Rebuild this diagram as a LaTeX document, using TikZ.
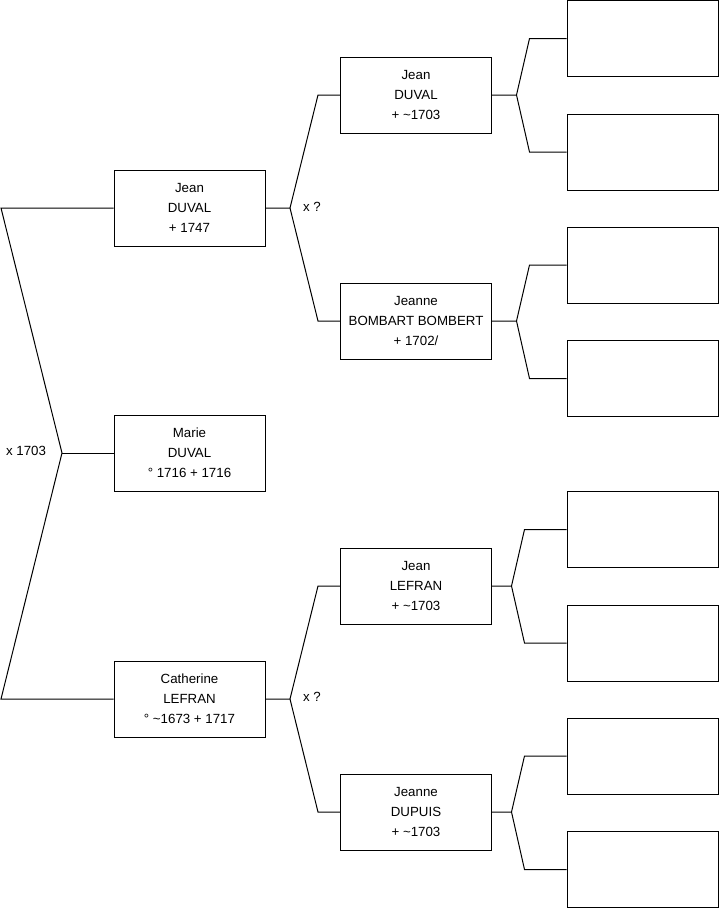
\documentclass[tikz,border=0pt]{standalone}
\usepackage{fontspec}
\setmainfont{Liberation Sans}
\begin{document}
\begin{tikzpicture}[x=1pt,y=-1pt,
    person/.style={draw, line width=1pt, minimum width=151pt, minimum height=76pt,
      inner sep=0pt, align=center, font=\fontsize{13.3}{20}\selectfont},
    link/.style={line width=1pt},
    union/.style={font=\fontsize{13.3}{16}\selectfont, inner sep=0pt}]
    \useasboundingbox (0,0) rectangle (719,908);
    % --- Parameters ---
    \pgfmathsetmacro{\xa}{189.5}
    \pgfmathsetmacro{\xb}{416}
    \pgfmathsetmacro{\xc}{642.5}
    % --- Children ---
    \node[person] (p1) at (\xa,208) {Jean\\DUVAL\\+ 1747};
    \node[person] (p2) at (\xa,453) {Marie\\DUVAL\\° 1716 + 1716};
    \node[person] (p3) at (\xa,699) {Catherine\\LEFRAN\\° \textasciitilde1673 + 1717};
    % --- Parents ---
    \node[person] (g1) at (\xb,95) {Jean\\DUVAL\\+ \textasciitilde1703};
    \node[person] (g2) at (\xb,321) {Jeanne\\BOMBART BOMBERT\\+ 1702/};
    \node[person] (g3) at (\xb,586) {Jean\\LEFRAN\\+ \textasciitilde1703};
    \node[person] (g4) at (\xb,812) {Jeanne\\DUPUIS\\+ \textasciitilde1703};
    % --- Grandparents (empty) ---
    \foreach \n/\y in {e1/38.5, e2/152, e3/265, e4/378.5, e5/529.5, e6/643, e7/756, e8/869.5} {
        \node[person] (\n) at (\xc,\y) {};
    }
    % --- Root bracket ---
    \coordinate (v0) at (62,453);
    \coordinate (a0) at (1,208);
    \coordinate (b0) at (1,699);
    \draw[link] (p1.west) -- (a0) -- (v0) -- (b0) -- (p3.west);
    \draw[link] (v0) -- (p2.west);
    \node[union] (m0) at (26,451) {x 1703};
    % --- Parent brackets ---
    \coordinate (v1) at (290,208);
    \coordinate (v2) at (290,699);
    \draw[link] (p1.east) -- (v1) -- (318,95) -- (g1.west);
    \draw[link] (v1) -- (318,321) -- (g2.west);
    \draw[link] (p3.east) -- (v2) -- (318,586) -- (g3.west);
    \draw[link] (v2) -- (318,812) -- (g4.west);
    \node[union] (m1) at (312,207) {x ?};
    \node[union] (m2) at (312,697) {x ?};
    % --- Grandparent brackets ---
    \foreach \g/\dv/\da/\ea/\eb in {g1/24.5/37/e1/e2, g2/24.5/37/e3/e4, g3/19.5/42/e5/e6, g4/19.5/42/e7/e8} {
        \coordinate (v\g) at ([xshift=\dv pt]\g.east);
        \draw[link] (\g.east) -- (v\g) -- ([xshift=-\da pt]\ea.west) -- (\ea.west);
        \draw[link] (v\g) -- ([xshift=-\da pt]\eb.west) -- (\eb.west);
    }
\end{tikzpicture}
\end{document}
